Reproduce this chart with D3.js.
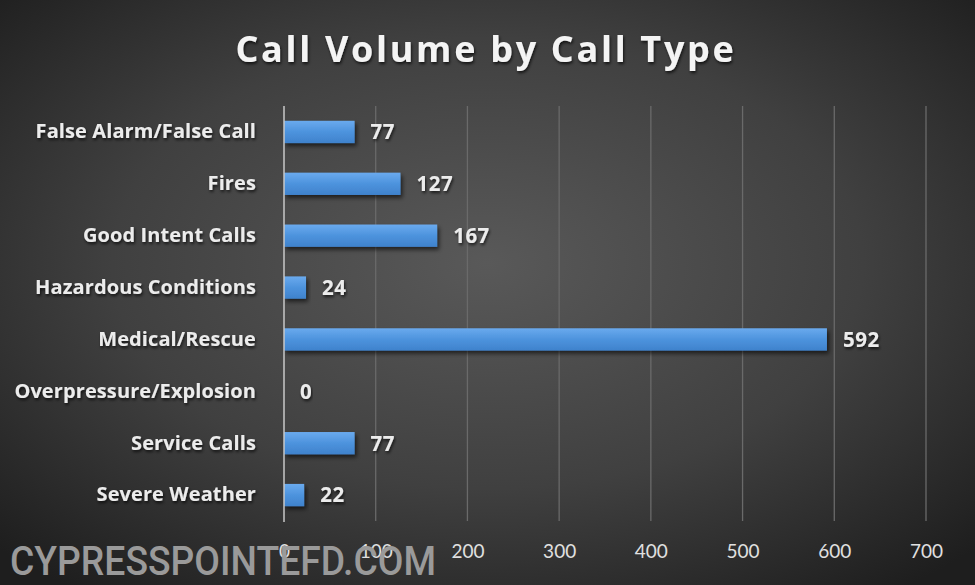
<!DOCTYPE html>
<html><head><meta charset="utf-8">
<script src="https://cdn.jsdelivr.net/npm/d3@7"></script>
<style>
html,body{margin:0;padding:0;background:#2a2a2a;}
svg{display:block;}
</style></head>
<body>
<svg id="chart" width="975" height="585"></svg>
<script>
const categories = ["False Alarm/False Call","Fires","Good Intent Calls","Hazardous Conditions","Medical/Rescue","Overpressure/Explosion","Service Calls","Severe Weather"];
const values = [77,127,167,24,592,0,77,22];
const tickValues = [0,100,200,300,400,500,600,700];
const titleText = "Call Volume by Call Type";
const watermark = "CYPRESSPOINTEFD.COM";

const W = 975, H = 585;
const svg = d3.select("#chart");
const defs = svg.append("defs");

const bg = defs.append("radialGradient").attr("id","bg").attr("cx","50%").attr("cy","45%").attr("r","70%");
bg.append("stop").attr("offset","0%").attr("stop-color","#595959");
bg.append("stop").attr("offset","55%").attr("stop-color","#404040");
bg.append("stop").attr("offset","100%").attr("stop-color","#1e1e1e");

const barG = defs.append("linearGradient").attr("id","barG").attr("x1","0").attr("y1","0").attr("x2","0").attr("y2","1");
barG.append("stop").attr("offset","0%").attr("stop-color","#6aaaee");
barG.append("stop").attr("offset","50%").attr("stop-color","#4d93dd");
barG.append("stop").attr("offset","100%").attr("stop-color","#3f82cc");

const sh = defs.append("filter").attr("id","shadow").attr("x","-10%").attr("y","-30%").attr("width","130%").attr("height","190%");
sh.append("feDropShadow").attr("dx",2).attr("dy",3).attr("stdDeviation",2).attr("flood-color","#000").attr("flood-opacity",0.6);

const tsh = defs.append("filter").attr("id","tshadow").attr("x","-5%").attr("y","-20%").attr("width","110%").attr("height","150%");
tsh.append("feDropShadow").attr("dx",1).attr("dy",2).attr("stdDeviation",1.5).attr("flood-color","#000").attr("flood-opacity",0.7);

svg.append("rect").attr("width",W).attr("height",H).attr("fill","url(#bg)");

const x = d3.scaleLinear().domain([0,700]).range([284,926]);
const y = d3.scaleBand().domain(categories).range([106,521]).paddingInner(0.57).paddingOuter(0.285);

// gridlines
svg.append("g").selectAll("line").data(tickValues.slice(1)).join("line")
  .attr("x1",d=>x(d)).attr("x2",d=>x(d)).attr("y1",106).attr("y2",521)
  .attr("stroke","#6a6a6a").attr("stroke-width",1.3);

// x axis tick labels
const xAxis = d3.axisBottom(x).tickValues(tickValues).tickSize(0).tickPadding(0);
const xg = svg.append("g").attr("transform","translate(0,544)").call(xAxis);
xg.select(".domain").remove();
xg.selectAll("text").attr("fill","#e0e0e0").attr("font-family","Lato, 'Open Sans', sans-serif")
  .attr("font-size",19).attr("dy","0.71em");

// bars
svg.append("g").selectAll("rect").data(values).join("rect")
  .attr("x",x(0)).attr("y",(d,i)=>y(categories[i]))
  .attr("width",d=>x(d)-x(0)).attr("height",y.bandwidth())
  .attr("fill","url(#barG)").attr("filter","url(#shadow)")
  .style("display",d=>d>0?null:"none");

// vertical axis line
svg.append("line").attr("x1",x(0)).attr("x2",x(0)).attr("y1",106).attr("y2",522)
  .attr("stroke","#c8c8c8").attr("stroke-width",1.5);

// category labels
const yAxis = d3.axisLeft(y).tickSize(0).tickPadding(28);
const yg = svg.append("g").attr("transform",`translate(${x(0)},0)`).call(yAxis);
yg.select(".domain").remove();
yg.selectAll("text").attr("fill","#ececec").attr("font-family","'Open Sans', sans-serif")
  .attr("font-weight","bold").attr("font-size",20).attr("letter-spacing","0.1")
  .attr("filter","url(#tshadow)");

// value labels
svg.append("g").selectAll("text").data(values).join("text")
  .attr("x",d=>x(d)+16).attr("y",(d,i)=>y(categories[i])+y.bandwidth()/2)
  .attr("dy","0.36em").text(d=>d)
  .attr("fill","#ececec").attr("font-family","'Open Sans', sans-serif")
  .attr("font-weight","bold").attr("font-size",20.5).attr("letter-spacing","0.5").attr("filter","url(#tshadow)");

// title
svg.append("text").attr("x",486).attr("y",62).attr("text-anchor","middle")
  .text(titleText).attr("fill","#f4f4f4").attr("font-family","'Open Sans', sans-serif")
  .attr("font-weight","bold").attr("font-size",36).attr("letter-spacing","2.7")
  .attr("filter","url(#tshadow)");

// watermark
svg.append("text").attr("x",10).attr("y",575).text(watermark)
  .attr("fill","#9a9a9a").attr("font-family","Roboto, sans-serif").attr("font-weight","500")
  .attr("font-size",40).attr("textLength",426).attr("lengthAdjust","spacingAndGlyphs");
</script>
</body></html>
